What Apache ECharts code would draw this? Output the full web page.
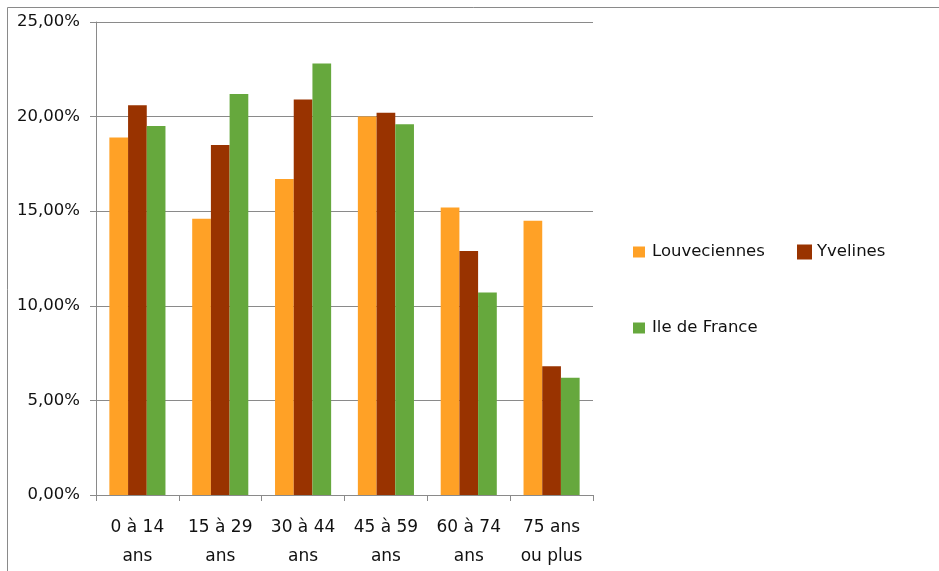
<!DOCTYPE html>
<html>
<head>
<meta charset="utf-8">
<script src="https://cdn.jsdelivr.net/npm/echarts@6/dist/echarts.min.js"></script>
<style>
  html, body { margin: 0; padding: 0; background: #fff; }
  #chart { width: 939px; height: 571px; }
</style>
</head>
<body>
<div id="chart"></div>
<script>
// Age groups (two-line labels)
const categories = ['0 à 14\nans', '15 à 29\nans', '30 à 44\nans', '45 à 59\nans', '60 à 74\nans', '75 ans\nou plus'];

// Share of population per age group, in percent
const louveciennes = [18.9, 14.6, 16.7, 20.0, 15.2, 14.5];
const yvelines     = [20.6, 18.5, 20.9, 20.2, 12.9, 6.8];
const ileDeFrance  = [19.5, 21.2, 22.8, 19.6, 10.7, 6.2];

// Value axis ticks
const yTicks = { min: 0, max: 25, interval: 5 };

const seriesNames = ['Louveciennes', 'Yvelines', 'Ile de France'];
const colors = ['#ffa126', '#993300', '#66a83d'];

const FONT = 'DejaVu Sans';
const TEXT = '#111';
const LINE = '#8a8a8a';

const chart = echarts.init(document.getElementById('chart'), null, { renderer: 'canvas' });

const legendText = { fontFamily: FONT, fontSize: 16.5, color: TEXT, lineHeight: 20, padding: [0, 0, 0, 2] };

chart.setOption({
  animation: false,
  backgroundColor: '#fff',
  color: colors,
  graphic: [{
    type: 'rect',
    silent: true,
    shape: { x: 7.5, y: 7.5, width: 1200, height: 1200 },
    style: { fill: 'none', stroke: LINE, lineWidth: 1 }
  }],
  grid: { left: 96, right: 346, top: 22, bottom: 73, containLabel: false },
  legend: [
    { data: [seriesNames[0]], left: 633, top: 242, itemWidth: 12, itemHeight: 11,
      icon: 'rect', textStyle: legendText, padding: 0 },
    { data: [seriesNames[1]], left: 797, top: 242, itemWidth: 15, itemHeight: 15,
      icon: 'rect', textStyle: { ...legendText, padding: 0 }, padding: 0 },
    { data: [seriesNames[2]], left: 633, top: 318, itemWidth: 12, itemHeight: 11,
      icon: 'rect', textStyle: legendText, padding: 0 }
  ],
  xAxis: {
    type: 'category',
    data: categories,
    axisLine: { show: true, lineStyle: { color: LINE, width: 1 } },
    axisTick: { show: true, length: 6, lineStyle: { color: LINE } },
    axisLabel: { fontFamily: FONT, fontSize: 17, color: TEXT, lineHeight: 29, margin: 18, interval: 0 },
    splitLine: { show: false }
  },
  yAxis: {
    type: 'value',
    min: yTicks.min,
    max: yTicks.max,
    interval: yTicks.interval,
    axisLine: { show: true, lineStyle: { color: LINE, width: 1 } },
    axisTick: { show: true, length: 6, lineStyle: { color: LINE } },
    axisLabel: {
      fontFamily: FONT, fontSize: 16.5, color: TEXT, margin: 16,
      formatter: v => v.toFixed(2).replace('.', ',') + '%'
    },
    splitLine: { show: true, lineStyle: { color: LINE, width: 1 } }
  },
  series: [
    { name: seriesNames[0], type: 'bar', data: louveciennes, barWidth: 18.7, barGap: '0%' },
    { name: seriesNames[1], type: 'bar', data: yvelines, barWidth: 18.7, barGap: '0%' },
    { name: seriesNames[2], type: 'bar', data: ileDeFrance, barWidth: 18.7, barGap: '0%' }
  ]
});
</script>
</body>
</html>
